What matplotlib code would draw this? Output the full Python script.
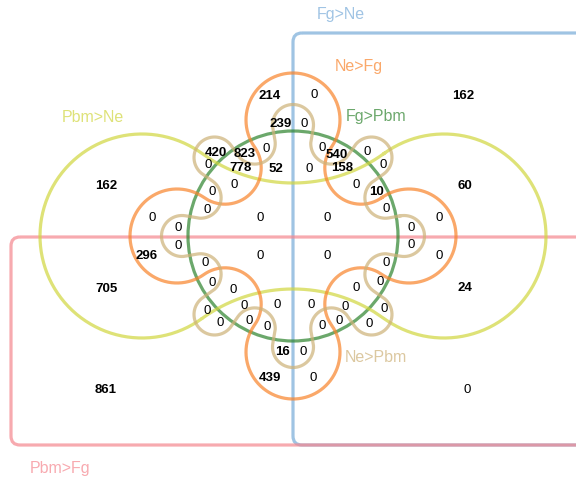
import numpy as np
import matplotlib.pyplot as plt
from matplotlib.patches import FancyBboxPatch, Circle

plt.rcParams['font.family'] = ['Liberation Sans', 'DejaVu Sans']

# set names and region counts
set_names = ['Fg>Ne', 'Ne>Fg', 'Fg>Pbm', 'Pbm>Ne', 'Ne>Pbm', 'Pbm>Fg']

# non-empty regions
big_counts = [214, 239, 162, 420, 823, 778, 52, 540, 158, 10,
              162, 60, 296, 705, 24, 16, 439, 861]
big_xy = [(270, 96), (281, 124), (463, 96), (216, 153), (245, 154), (240, 168),
          (276, 169), (337, 155), (342, 168), (376, 192), (106, 186), (465, 186),
          (147, 256), (106, 289), (465, 288), (282, 352), (270, 378), (106, 390)]

# empty regions
zero_counts = [0] * 45
zero_xy = [(314, 95), (304, 124), (266, 149), (208, 165), (234, 185), (322, 148),
           (309, 169), (367, 152), (383, 165), (356, 185),
           (212, 192), (207, 210), (152, 218), (178, 228), (260, 218), (178, 246),
           (260, 256), (205, 263), (212, 283), (233, 290),
           (207, 311), (220, 323), (244, 306), (249, 321), (277, 305), (267, 327),
           (303, 352), (313, 378),
           (386, 209), (327, 218), (439, 218), (411, 228), (327, 256), (439, 256),
           (411, 245), (386, 263), (380, 282), (356, 288), (311, 305), (345, 307),
           (384, 309), (339, 321), (322, 326), (369, 324), (467, 390)]

colors = {'Fg>Ne': '#77abd8', 'Ne>Fg': '#f8832a', 'Fg>Pbm': '#2d832d',
          'Pbm>Ne': '#d0d63e', 'Ne>Pbm': '#cdb177', 'Pbm>Fg': '#f5868e'}
text_colors = {'Fg>Ne': '#a0c4e4', 'Ne>Fg': '#faa86a', 'Fg>Pbm': '#6ca86c',
               'Pbm>Ne': '#dee278', 'Ne>Pbm': '#dcc8a0', 'Pbm>Fg': '#f8aab0'}

cx, cy = 293, 236


def tangent_points(c1, c2):
    p1, r1, s1 = np.array(c1[:2], float), c1[2], c1[3]
    p2, r2 = np.array(c2[:2], float), c2[2]
    d = p2 - p1
    dist = np.hypot(*d)
    mid = p1 + d * r1 / (r1 + r2)
    alpha = np.arccos(min(1.0, r1 / (dist * r1 / (r1 + r2))))
    base = np.arctan2(d[1], d[0])
    best = None
    for sg in (1, -1):
        a = base + sg * alpha
        t1 = p1 + r1 * np.array([np.cos(a), np.sin(a)])
        tang = s1 * np.array([-np.sin(a), np.cos(a)])
        score = np.dot(tang, mid - t1)
        if best is None or score > best[0]:
            best = (score, t1, mid + (mid - t1) * r2 / r1)
    return best[1], best[2]


def chain_outline(circles, n=240):
    k = len(circles)
    exits, entries = [], []
    for i in range(k):
        t1, t2 = tangent_points(circles[i], circles[(i + 1) % k])
        exits.append(t1)
        entries.append(t2)
    pts = []
    for i in range(k):
        x0, y0, r, s = circles[i]
        e_in = entries[i - 1]
        e_out = exits[i]
        a0 = np.arctan2(e_in[1] - y0, e_in[0] - x0)
        a1 = np.arctan2(e_out[1] - y0, e_out[0] - x0)
        if s > 0:
            sweep = (a1 - a0) % (2 * np.pi)
        else:
            sweep = -((a0 - a1) % (2 * np.pi))
        ang = a0 + sweep * np.linspace(0, 1, n)
        pts.append(np.column_stack([x0 + r * np.cos(ang), y0 + r * np.sin(ang)]))
    pts = np.vstack(pts)
    return np.vstack([pts, pts[:1]])


def ring(dist_out, r_out, dist_in, r_in, n_lobes, offset=0.0):
    circles = []
    step = 2 * np.pi / n_lobes
    for i in range(n_lobes):
        a = offset + i * step
        circles.append((cx + dist_out * np.cos(a), cy + dist_out * np.sin(a), r_out, 1))
        b = a + step / 2
        circles.append((cx + dist_in * np.cos(b), cy + dist_in * np.sin(b), r_in, -1))
    return circles


def tangent_ring(dist_out, r_out, inner_gap, n_lobes):
    # inner arcs touch the outer lobes; inner_gap is their nearest distance to the centre
    c = np.cos(np.pi / n_lobes)
    u = (dist_out ** 2 - (r_out - inner_gap) ** 2) / (2 * (dist_out * c + r_out - inner_gap))
    return ring(dist_out, r_out, u, u - inner_gap, n_lobes)


fig = plt.figure(figsize=(5.76, 4.83), dpi=100)
ax = fig.add_axes([0, 0, 1, 1])
ax.set_xlim(0, 576)
ax.set_ylim(483, 0)
ax.axis('off')

lw = 2.3
alpha = 0.7

# two half planes as rounded rectangles
ax.add_patch(FancyBboxPatch((293, 33), 320, 412, boxstyle='round,pad=0,rounding_size=9',
                            fill=False, ec=colors['Fg>Ne'], lw=lw, alpha=alpha))
ax.add_patch(FancyBboxPatch((11, 237), 600, 208, boxstyle='round,pad=0,rounding_size=9',
                            fill=False, ec=colors['Pbm>Fg'], lw=lw, alpha=alpha))

# two-lobed, four-lobed and eight-lobed curves around the central circle
yellow = chain_outline(tangent_ring(151, 102, 53, 2))
orange = chain_outline(tangent_ring(116, 47, 60, 4))
tan = chain_outline(ring(111, 20.5, 100, 20.5, 8))

ax.plot(yellow[:, 0], yellow[:, 1], color=colors['Pbm>Ne'], lw=lw, alpha=alpha)
ax.add_patch(Circle((cx, cy), 105, fill=False, ec=colors['Fg>Pbm'], lw=lw, alpha=alpha))
ax.plot(orange[:, 0], orange[:, 1], color=colors['Ne>Fg'], lw=lw, alpha=alpha)
ax.plot(tan[:, 0], tan[:, 1], color=colors['Ne>Pbm'], lw=lw, alpha=alpha)

# set names
name_xy = {'Fg>Ne': (317, 15), 'Ne>Fg': (335, 66), 'Fg>Pbm': (346, 117),
           'Pbm>Ne': (62, 117), 'Ne>Pbm': (345, 357), 'Pbm>Fg': (30, 469)}
for name in set_names:
    x, y = name_xy[name]
    ax.text(x, y, name, color=text_colors[name], fontsize=11.5, ha='left', va='center')

# region counts
for (x, y), v in zip(big_xy + zero_xy, big_counts + zero_counts):
    ax.text(x, y, str(v), fontsize=9.5, ha='center', va='center',
            fontweight='bold' if v else 'normal', color='black')

fig.savefig('out.png', dpi=100)
